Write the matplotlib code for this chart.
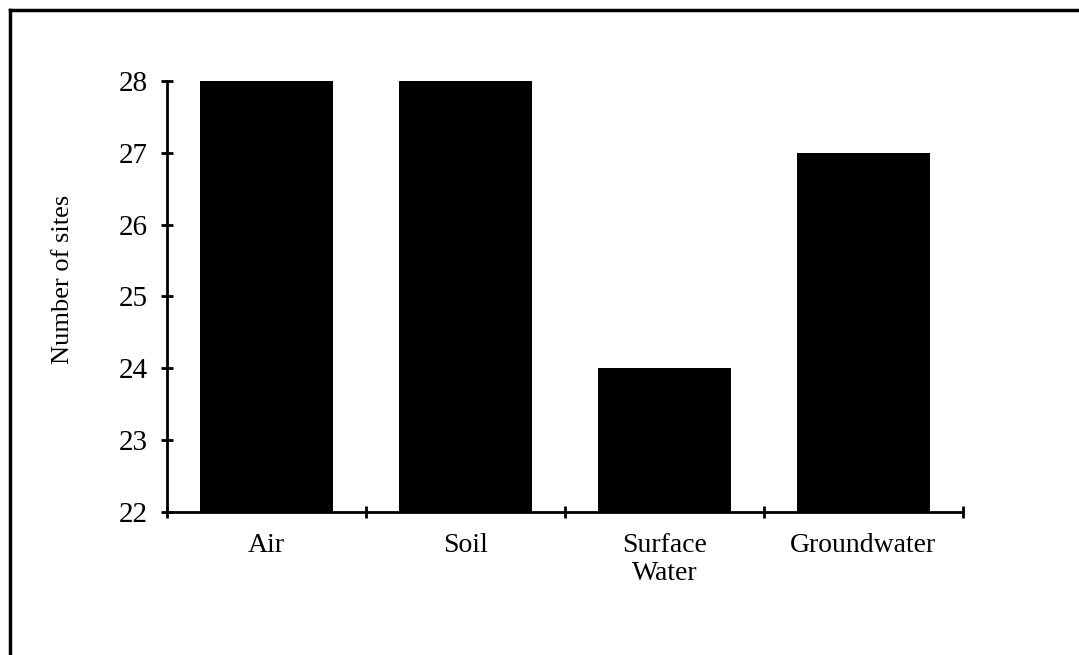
import matplotlib.pyplot as plt
from matplotlib.lines import Line2D

# data
categories = ["Air", "Soil", "Surface\nWater", "Groundwater"]
sites = [28, 28, 24, 27]
y_ticks = [22, 23, 24, 25, 26, 27, 28]

plt.rcParams['font.family'] = ['Liberation Serif', 'DejaVu Serif']

fig = plt.figure(figsize=(10.79, 6.55), dpi=100)
ax = fig.add_axes([167 / 1079, 1 - 512 / 655, 796 / 1079, 431 / 655])

x = list(range(len(categories)))
base = y_ticks[0]
ax.bar(x, [v - base for v in sites], bottom=base, width=0.67, color="black")

ax.set_xlim(-0.5, len(categories) - 0.5)
ax.set_ylim(y_ticks[0], y_ticks[-1])

# ticks sit on the category boundaries, labels in the middle
ax.set_xticks([i - 0.5 for i in range(len(categories) + 1)])
ax.set_xticklabels([])
ax.set_xticks(x, minor=True)
ax.set_xticklabels(categories, minor=True, fontsize=20, va="top", linespacing=1.15)
ax.tick_params(axis="x", which="minor", length=0, pad=15)
ax.tick_params(axis="x", which="major", direction="inout", length=9, width=2)

ax.set_yticks(y_ticks)
ax.set_yticklabels([str(t) for t in y_ticks], fontsize=21)
ax.tick_params(axis="y", direction="inout", length=8, width=2, pad=10)

for side in ["top", "right"]:
    ax.spines[side].set_visible(False)
for side in ["left", "bottom"]:
    ax.spines[side].set_linewidth(2)

ax.set_ylabel("Number of sites", fontsize=19)
ax.yaxis.set_label_coords(-0.117, 0.54)

# outer frame (only top and left edges show in the scan)
fig.add_artist(Line2D([10 / 1079, 1], [1 - 10 / 655, 1 - 10 / 655],
                      transform=fig.transFigure, color="black", lw=2.5))
fig.add_artist(Line2D([10 / 1079, 10 / 1079], [0, 1 - 10 / 655],
                      transform=fig.transFigure, color="black", lw=2.5))

fig.savefig("out.png", dpi=100)
